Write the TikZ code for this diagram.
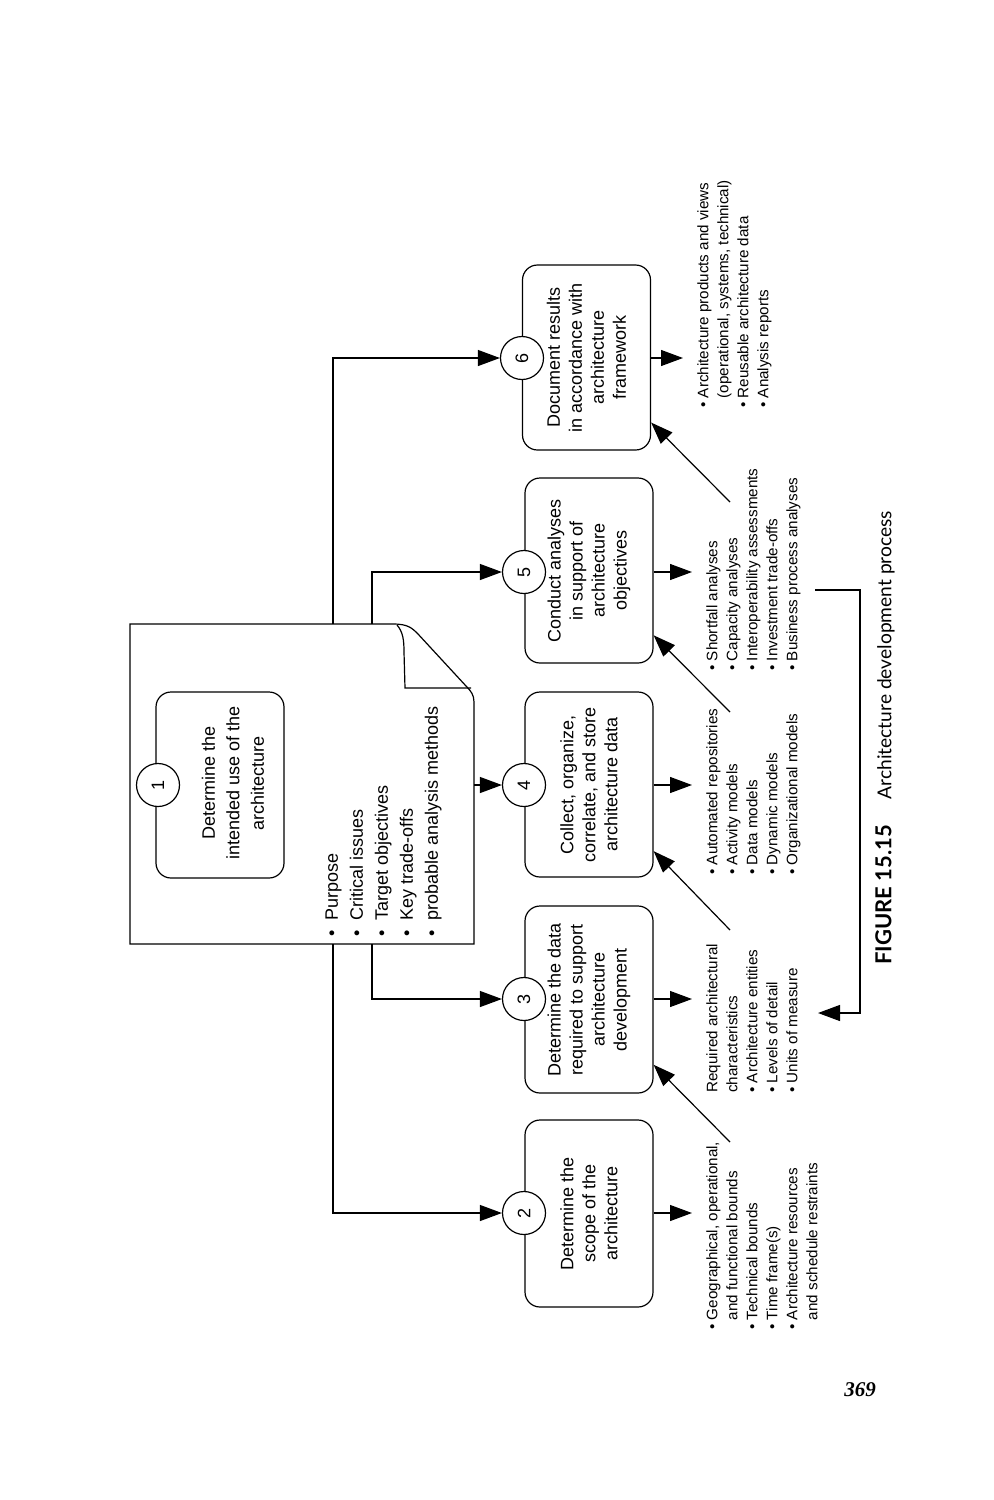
\documentclass[tikz,border=0pt]{standalone}
\usepackage{fontspec}
\setmainfont{Liberation Sans}
\newfontfamily\capfont{Lato}
\newfontfamily\pagefont{Liberation Serif}
\usetikzlibrary{arrows.meta,calc}
\tikzset{
  flow/.style={-{Triangle[length=11pt,width=8pt]}, line width=0.6pt},
  pbox/.style={draw, line width=0.6pt, rounded corners=7.5pt, rotate=90,
    minimum height=64pt, align=center, inner sep=2pt,
    font=\fontsize{9}{11}\selectfont},
  num/.style={draw, circle, fill=white, line width=0.6pt, minimum size=21.5pt,
    inner sep=0pt, rotate=90, font=\fontsize{9}{11}\selectfont},
  outlist/.style={rotate=90, anchor=north west, align=left, inner sep=0pt,
    font=\fontsize{7.6}{10}\selectfont},
}
\newcommand{\bl}{\textbullet\ }
\newcommand{\nb}{\phantom{\textbullet\ }}
\newcommand{\bw}{\textbullet\hspace{5pt}}

\begin{document}
\begin{tikzpicture}[x=0.5pt,y=-0.5pt]
  \useasboundingbox (0,0) rectangle (993,1500);
  % document shape of step 1
  \draw[line width=0.6pt] (130,624) -- (393,624)
    .. controls (408,624) and (412,628) .. (418,634) -- (466,686)
    .. controls (471,691) and (474,695) .. (474,702) -- (474,944) -- (130,944) -- cycle;
  \draw[line width=0.6pt] (397,625) .. controls (403,632) and (404,640) .. (404,652)
    -- (405,688) -- (471,688);
  \node[pbox, minimum width=93pt] (b1) at (220,785) {};
  \node[rotate=90, align=center, font=\fontsize{9}{12.25}\selectfont] (b1t) at (233,783)
    {Determine the\\intended use of the\\architecture};
  \node[num] (c1) at (158,785) {1};
  \node[outlist, font=\fontsize{9}{12.5}\selectfont] (l1) at (325,937)
    {\bw Purpose\\\bw Critical issues\\\bw Target objectives\\\bw Key trade-offs\\\bw probable analysis methods};
  \coordinate (d6) at (333,624);
  \coordinate (d5) at (372,624);
  \coordinate (d4) at (474,785);
  \coordinate (d3) at (372,944);
  \coordinate (d2) at (333,944);

  % steps 2 to 6
  \node[pbox, minimum width=93.5pt] (b2) at (589,1213.5) {Determine the\\scope of the\\architecture};
  \node[pbox, minimum width=93.5pt] (b3) at (589,999.5) {Determine the data\\required to support\\architecture\\development};
  \node[pbox, minimum width=92.5pt] (b4) at (589,784.5) {Collect, organize,\\correlate, and store\\architecture data};
  \node[pbox, minimum width=92.5pt] (b5) at (589,570.5) {Conduct analyses\\in support of\\architecture\\objectives};
  \node[pbox, minimum width=92.5pt] (b6) at (586.5,357.5) {Document results\\in accordance with\\architecture\\framework};
  \node[num] (c2) at (524,1213) {2};
  \node[num] (c3) at (524,999) {3};
  \node[num] (c4) at (524,785) {4};
  \node[num] (c5) at (524,572) {5};
  \node[num] (c6) at (522,358) {6};

  % products of each step
  \node[outlist] (l2) at (706,1330)
    {\bl Geographical, operational,\\\nb and functional bounds\\\bl Technical bounds\\\bl Time frame(s)\\\bl Architecture resources\\\nb and schedule restraints};
  \node[outlist] (l3) at (706,1093)
    {Required architectural\\characteristics\\\bl Architecture entities\\\bl Levels of detail\\\bl Units of measure};
  \node[outlist] (l4) at (706,875)
    {\bl Automated repositories\\\bl Activity models\\\bl Data models\\\bl Dynamic models\\\bl Organizational models};
  \node[outlist] (l5) at (706,671)
    {\bl Shortfall analyses\\\bl Capacity analyses\\\bl Interoperability assessments\\\bl Investment trade-offs\\\bl Business process analyses};
  \node[outlist] (l6) at (697,408)
    {\bl Architecture products and views\\\nb (operational, systems, technical)\\\bl Reusable architecture data\\\bl Analysis reports};
  \coordinate (t2) at (730,1142);
  \coordinate (t3) at (730,930);
  \coordinate (t4) at (730,712);
  \coordinate (t5) at (730,502);

  % connectors
  \draw[flow] (d6) |- (c6);
  \draw[flow] (d5) |- (c5);
  \draw[flow] (d4) -- (c4);
  \draw[flow] (d3) |- (c3);
  \draw[flow] (d2) |- (c2);
  \foreach \i in {2,...,6}{
    \draw[flow, shorten >=7pt] (c\i -| b\i.south) -- (c\i -| l\i.north);
  }
  \draw[flow] (t2) -- (b3);
  \draw[flow] (t3) -- (b4);
  \draw[flow] (t4) -- (b5);
  \draw[flow] (t5) -- (b6);
  \coordinate (fbS) at (815,590);
  \coordinate (fbE) at (818,1013);
  \draw[flow] (fbS) -- ++(45,0) |- (fbE);

  % caption and page number
  \node[rotate=90, anchor=west, font=\capfont] (cap) at (885,972)
    {{\fontsize{11}{12}\selectfont\bfseries FIGURE 15.15}\hspace{13pt}{\fontsize{9.6}{12}\selectfont Architecture development process}};
  \node[font=\pagefont\bfseries\itshape\fontsize{10.5}{12}\selectfont] (pg) at (860,1390) {369};
\end{tikzpicture}
\end{document}
